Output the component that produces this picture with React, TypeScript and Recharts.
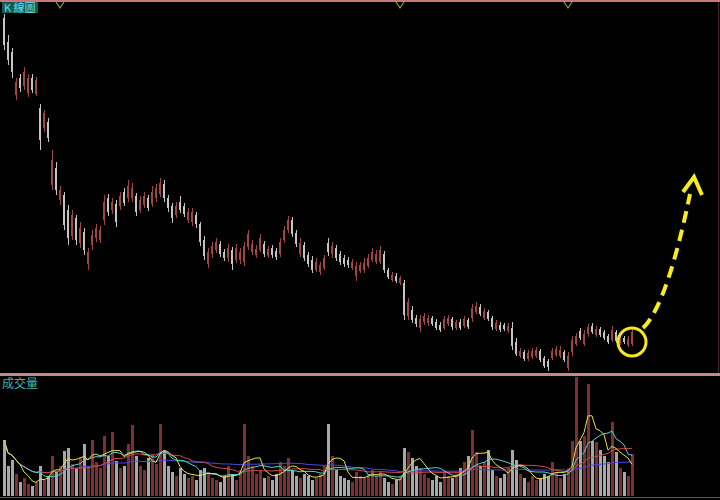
import React from 'react';
import { ComposedChart, Bar, Line, XAxis, YAxis, Cell, ReferenceDot } from 'recharts';

// K 線資料 (開 / 收 / 高 / 低) 與成交量
const opens = [
  362, 338, 328, 285, 302, 294, 287, 302, 286, 272,
  252, 258, 195, 212, 180, 185, 170, 144, 162, 137,
  148, 116, 135, 142, 140, 160, 182, 170, 176, 174,
  188, 182, 182, 184, 170, 175, 182, 176, 182, 186,
  196, 182, 174, 165, 178, 174, 160, 158, 165, 156,
  140, 116, 126, 130, 136, 128, 122, 130, 120, 120,
  118, 133, 128, 125, 130, 136, 124, 132, 129, 126,
  140, 150, 160, 147, 126, 135, 125, 120, 110, 108,
  112, 137, 126, 132, 126, 122, 120, 112, 104, 109,
  110, 114, 120, 118, 118, 126, 110, 100, 104, 97,
  97, 64, 70, 62, 52, 58, 57, 62, 58, 55,
  52, 56, 61, 52, 58, 54, 60, 62, 68, 73,
  62, 68, 62, 51, 55, 55, 49, 52, 38, 24,
  28, 21, 23, 24, 29, 22, 19, 22, 25, 24,
  28, 12, 28, 36, 49, 36, 46, 54, 45, 51,
  48, 44, 40, 48, 37, 42, 35, 36,
];

const closes = [
  335, 320, 308, 298, 292, 308, 302, 290, 300, 240,
  267, 242, 220, 190, 190, 155, 142, 165, 140, 152,
  130, 128, 145, 152, 150, 178, 168, 178, 158, 184,
  177, 194, 192, 168, 180, 184, 172, 188, 192, 197,
  182, 172, 162, 174, 170, 166, 168, 168, 156, 138,
  124, 128, 134, 138, 126, 122, 132, 116, 132, 128,
  134, 146, 136, 131, 142, 126, 131, 125, 123, 138,
  150, 160, 146, 136, 137, 122, 116, 110, 118, 115,
  122, 128, 134, 122, 118, 116, 115, 118, 114, 115,
  117, 122, 128, 126, 130, 110, 103, 105, 99, 102,
  65, 78, 60, 56, 61, 64, 62, 56, 52, 50,
  61, 62, 53, 58, 52, 61, 53, 72, 74, 66,
  69, 61, 53, 57, 50, 51, 54, 34, 26, 29,
  21, 27, 29, 30, 20, 14, 13, 29, 31, 30,
  20, 24, 40, 44, 42, 46, 53, 48, 51, 45,
  42, 38, 50, 39, 42, 38, 41, 48,
];

const highs = [
  366, 345, 332, 302, 306, 313, 306, 306, 303, 276,
  270, 262, 230, 218, 194, 188, 175, 170, 165, 158,
  152, 132, 150, 156, 154, 185, 186, 182, 180, 188,
  192, 200, 197, 187, 184, 188, 185, 194, 196, 202,
  200, 185, 177, 178, 184, 177, 172, 172, 168, 158,
  144, 132, 138, 142, 139, 131, 136, 133, 136, 132,
  138, 150, 140, 135, 146, 139, 134, 135, 132, 142,
  154, 164, 163, 150, 142, 138, 128, 124, 122, 118,
  125, 142, 138, 135, 129, 125, 123, 121, 118, 118,
  122, 126, 132, 130, 134, 129, 112, 108, 107, 104,
  100, 82, 74, 65, 65, 67, 65, 64, 61, 58,
  64, 65, 63, 60, 61, 64, 62, 76, 78, 76,
  72, 70, 64, 60, 58, 57, 57, 58, 42, 32,
  30, 30, 32, 33, 31, 24, 21, 32, 34, 34,
  30, 28, 44, 47, 52, 50, 56, 57, 54, 53,
  50, 46, 54, 50, 45, 44, 44, 52,
];

const lows = [
  330, 315, 302, 280, 288, 290, 283, 287, 284, 230,
  248, 238, 190, 185, 175, 150, 135, 140, 135, 132,
  125, 110, 130, 138, 137, 155, 164, 166, 153, 170,
  174, 178, 178, 164, 167, 172, 169, 173, 178, 183,
  178, 168, 157, 162, 167, 163, 157, 154, 152, 134,
  120, 112, 122, 127, 123, 119, 118, 110, 117, 116,
  114, 130, 125, 122, 128, 123, 122, 122, 120, 123,
  137, 147, 143, 133, 123, 119, 113, 107, 108, 105,
  110, 124, 122, 119, 115, 113, 112, 110, 99, 107,
  107, 112, 118, 116, 116, 107, 101, 98, 97, 95,
  60, 60, 57, 53, 48, 55, 54, 54, 50, 48,
  50, 54, 50, 50, 50, 52, 51, 58, 66, 64,
  60, 59, 50, 49, 48, 49, 47, 30, 24, 22,
  19, 19, 21, 22, 18, 12, 9, 20, 23, 22,
  18, 9, 24, 34, 40, 34, 43, 46, 43, 43,
  40, 36, 38, 37, 35, 36, 33, 34,
];

const volumes = [
  56, 30, 36, 22, 14, 18, 12, 10, 14, 30,
  16, 20, 40, 25, 30, 45, 48, 32, 28, 38,
  52, 30, 56, 34, 28, 60, 40, 64, 35, 28,
  30, 52, 71, 40, 30, 26, 38, 42, 32, 72,
  45, 30, 24, 20, 28, 22, 18, 20, 16, 26,
  28, 24, 18, 16, 14, 20, 30, 22, 16, 26,
  72, 40, 30, 22, 26, 18, 20, 16, 22, 34,
  30, 38, 26, 20, 18, 22, 20, 16, 18, 22,
  30, 72, 40, 26, 20, 18, 16, 14, 24, 20,
  18, 22, 26, 20, 24, 18, 14, 12, 16, 20,
  48, 44, 38, 30, 28, 22, 18, 16, 20, 14,
  24, 20, 18, 22, 28, 34, 40, 66, 44, 30,
  34, 46, 26, 20, 18, 22, 28, 46, 36, 22,
  18, 14, 20, 16, 18, 22, 20, 34, 24, 18,
  22, 28, 55, 119, 55, 60, 112, 55, 54, 46,
  40, 34, 74, 44, 28, 24, 20, 42,
];

// 上方事件標記所在的 K 棒
const markerBars = [14, 99, 141];

const UP = '#9e4646';
const DOWN = '#c4c4c4';
const VOL_UP = '#7e3030';
const VOL_DOWN = '#a8a8a8';

const movingAvg = (arr: number[], n: number) =>
  arr.map((_, i) => {
    const s = arr.slice(Math.max(0, i - n + 1), i + 1);
    return s.reduce((a, b) => a + b, 0) / s.length;
  });

const ma5 = movingAvg(volumes, 5);
const ma10 = movingAvg(volumes, 10);
const ma20 = movingAvg(volumes, 20);
const ma60 = movingAvg(volumes, 60);

const data = opens.map((o, i) => ({
  i,
  open: o,
  close: closes[i],
  high: highs[i],
  low: lows[i],
  range: [lows[i], highs[i]],
  vol: volumes[i],
  ma5: ma5[i],
  ma10: ma10[i],
  ma20: ma20[i],
  ma60: ma60[i],
}));

const Candle = (props: any) => {
  const { x, y, width, height, payload } = props;
  const top = Math.min(y, y + height);
  const bot = Math.max(y, y + height);
  const span = payload.high - payload.low;
  const k = span > 0 ? (bot - top) / span : 0;
  const oy = top + (payload.high - payload.open) * k;
  const cy = top + (payload.high - payload.close) * k;
  const color = payload.close >= payload.open ? UP : DOWN;
  const bodyTop = Math.min(oy, cy);
  const bodyH = Math.max(1, Math.abs(oy - cy));
  return (
    <g shapeRendering="crispEdges">
      <rect x={Math.round(x + width / 2 - 0.5)} y={top} width={1} height={bot - top} fill={color} />
      <rect x={Math.round(x)} y={bodyTop} width={width} height={bodyH} fill={color} />
    </g>
  );
};

const Vmark = (props: any) => {
  const { cx, cy } = props;
  return (
    <path
      d={`M${cx - 4},${cy - 4} L${cx},${cy + 2} L${cx + 4},${cy - 4}`}
      fill="none"
      stroke="#a89838"
      strokeWidth={1.2}
    />
  );
};

const margin = { top: 5, right: 86, bottom: 4, left: 2 };

export default function App() {
  return (
    <div
      style={{
        position: 'absolute',
        left: 0,
        top: 0,
        width: 720,
        height: 500,
        background: '#000',
        overflow: 'hidden',
        fontFamily: '"Noto Sans CJK TC", "Noto Sans", sans-serif',
      }}
    >
      <div style={{ position: 'absolute', left: 0, top: 0 }}>
        <ComposedChart width={720} height={376} data={data} margin={margin}>
          <XAxis dataKey="i" hide />
          <YAxis hide domain={[8, 375]} allowDataOverflow />
          <Bar dataKey="range" barSize={2} shape={<Candle />} isAnimationActive={false} />
          {markerBars.map((b) => (
            <ReferenceDot key={b} x={b} y={374} r={4} ifOverflow="visible" shape={<Vmark />} />
          ))}
          <ReferenceDot
            x={157}
            y={38}
            r={14}
            fill="none"
            stroke="#f5e81c"
            strokeWidth={3}
            ifOverflow="visible"
          />
        </ComposedChart>
      </div>

      <div style={{ position: 'absolute', left: 0, top: 376 }}>
        <ComposedChart width={720} height={122} data={data} margin={{ top: 0, right: 86, bottom: 2, left: 2 }}>
          <XAxis dataKey="i" hide />
          <YAxis hide domain={[0, 120]} allowDataOverflow />
          <Bar dataKey="vol" barSize={3} isAnimationActive={false}>
            {data.map((d) => (
              <Cell key={d.i} fill={d.close >= d.open ? VOL_UP : VOL_DOWN} />
            ))}
          </Bar>
          <Line dataKey="ma60" stroke="#4a48d8" strokeWidth={1} dot={false} isAnimationActive={false} />
          <Line dataKey="ma20" stroke="#d04848" strokeWidth={1} dot={false} isAnimationActive={false} />
          <Line dataKey="ma10" stroke="#52d2d2" strokeWidth={1} dot={false} isAnimationActive={false} />
          <Line dataKey="ma5" stroke="#e8de4c" strokeWidth={1} dot={false} isAnimationActive={false} />
        </ComposedChart>
      </div>

      <svg
        width={720}
        height={500}
        style={{ position: 'absolute', left: 0, top: 0, pointerEvents: 'none' }}
      >
        <rect x={0} y={0} width={720} height={2} fill="#c87878" />
        <rect x={0} y={373} width={720} height={3} fill="#c48a8a" />
        <rect x={0} y={497} width={720} height={1} fill="#5a5a5a" />
        <rect x={718} y={2} width={1} height={371} fill="#4a2828" />
        <path
          d="M643,328 C660,312 676,262 690,194"
          fill="none"
          stroke="#f8ec1c"
          strokeWidth={4}
          strokeDasharray="12 7"
        />
        <path
          d="M683,192 L694,177 L702,195"
          fill="none"
          stroke="#f8ec1c"
          strokeWidth={4}
          strokeLinejoin="miter"
        />
      </svg>

      <div
        style={{
          position: 'absolute',
          left: 2,
          top: 2,
          height: 11,
          padding: '0 2px',
          background: '#135a5a',
          color: '#66e2e2',
          fontSize: 11,
          lineHeight: '11px',
          whiteSpace: 'nowrap',
        }}
      >
        K 線圖
      </div>
      <div
        style={{
          position: 'absolute',
          left: 2,
          top: 376,
          color: '#3eb4b4',
          fontSize: 12,
          lineHeight: '13px',
          whiteSpace: 'nowrap',
        }}
      >
        成交量
      </div>
    </div>
  );
}
